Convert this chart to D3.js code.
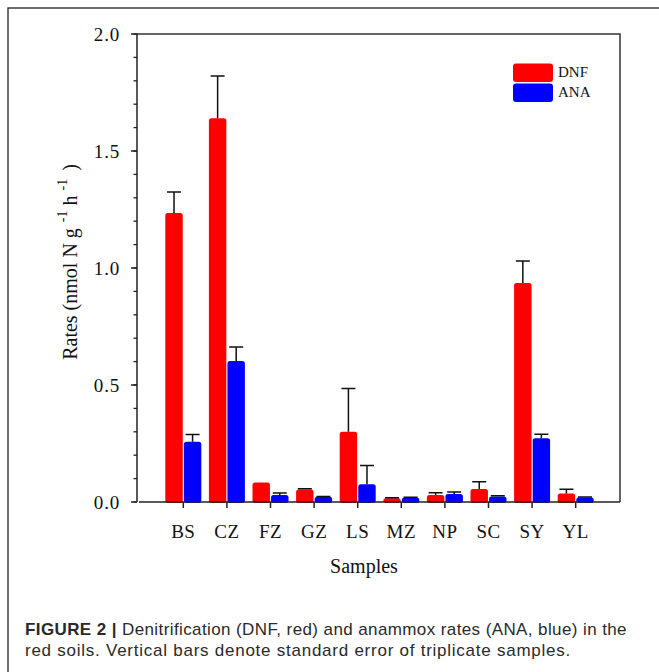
<!DOCTYPE html>
<html><head><meta charset="utf-8">
<script src="https://cdn.jsdelivr.net/npm/d3@7"></script>
<style>body{margin:0;background:#fff}svg{display:block}</style>
</head><body>
<script>
const categories = ["BS","CZ","FZ","GZ","LS","MZ","NP","SC","SY","YL"];
const seriesNames = ["DNF","ANA"];
const seriesColors = ["#ff0000","#0000ff"];
const dnfValues = [1.235, 1.64, 0.083, 0.053, 0.30, 0.016, 0.030, 0.056, 0.936, 0.036];
const dnfErrors = [0.09, 0.18, 0.0, 0.004, 0.185, 0.002, 0.010, 0.031, 0.094, 0.018];
const anaValues = [0.257, 0.603, 0.030, 0.022, 0.076, 0.019, 0.034, 0.024, 0.272, 0.019];
const anaErrors = [0.031, 0.059, 0.008, 0.002, 0.08, 0.001, 0.009, 0.003, 0.018, 0.002];
const yTicks = [0.0, 0.5, 1.0, 1.5, 2.0];
const yMinorTicks = d3.range(0, 21).map(i => i / 10);
const xTitle = "Samples";
const captionBold = "FIGURE 2 |";
const captionLine1 = " Denitrification (DNF, red) and anammox rates (ANA, blue) in the";
const captionLine2 = "red soils. Vertical bars denote standard error of triplicate samples.";

const W = 659, H = 672;
const svg = d3.select("body").append("svg").attr("width", W).attr("height", H);

// outer figure border (extends past right/bottom)
svg.append("rect").attr("x", 8).attr("y", 8).attr("width", 700).attr("height", 720)
  .attr("fill", "none").attr("stroke", "#222").attr("stroke-width", 1.3);

const pL = 137, pR = 620, pT = 34, pB = 502;
const y = d3.scaleLinear().domain([0, 2]).range([pB, pT]);
const x0 = d3.scaleBand().domain(categories).range([161.5, 597.5]);
const x1 = d3.scaleBand().domain(seriesNames).range([3.8, x0.bandwidth() - 3.8]).paddingInner(0.06);
const color = d3.scaleOrdinal().domain(seriesNames).range(seriesColors);

const data = categories.map((c, i) => ({
  cat: c,
  vals: [
    {s: "DNF", v: dnfValues[i], e: dnfErrors[i]},
    {s: "ANA", v: anaValues[i], e: anaErrors[i]}
  ]
}));

const serif = "'Liberation Serif','Times New Roman',serif";
const axisColor = "#222";

// frame: top and right lines
svg.append("path").attr("d", `M${pL},${pT}H${pR}V${pB}`)
  .attr("fill", "none").attr("stroke", "#333").attr("stroke-width", 1.5);

// bars
const g = svg.append("g");
const groups = g.selectAll("g.cat").data(data).join("g")
  .attr("transform", d => `translate(${x0(d.cat)},0)`);
groups.selectAll("rect").data(d => d.vals).join("rect")
  .attr("x", d => x1(d.s)).attr("width", x1.bandwidth())
  .attr("y", d => y(d.v)).attr("height", d => y(0) - y(d.v) + 1)
  .attr("rx", 2.5).attr("fill", d => color(d.s));
// error bars
groups.selectAll("path.err").data(d => d.vals.filter(v => v.e > 0)).join("path")
  .attr("class", "err")
  .attr("d", d => {
    const cx = x1(d.s) + x1.bandwidth() / 2;
    return `M${cx},${y(d.v)}V${y(d.v + d.e)}M${cx - 7},${y(d.v + d.e)}H${cx + 7}`;
  })
  .attr("stroke", "#111").attr("stroke-width", 1.5).attr("fill", "none");

// y axis
const yAxis = svg.append("g");
yAxis.append("line").attr("x1", pL).attr("x2", pL).attr("y1", pT).attr("y2", pB)
  .attr("stroke", axisColor).attr("stroke-width", 1.5);
yAxis.selectAll("line.minor").data(yMinorTicks).join("line").attr("class", "minor")
  .attr("x1", pL - 3.5).attr("x2", pL).attr("y1", d => y(d)).attr("y2", d => y(d))
  .attr("stroke", axisColor).attr("stroke-width", 1.3);
yAxis.selectAll("line.major").data(yTicks).join("line").attr("class", "major")
  .attr("x1", pL - 6).attr("x2", pL).attr("y1", d => y(d)).attr("y2", d => y(d))
  .attr("stroke", axisColor).attr("stroke-width", 1.5);
yAxis.selectAll("text").data(yTicks).join("text")
  .attr("x", 120).attr("y", d => y(d) + 6.5).attr("text-anchor", "end")
  .attr("font-family", serif).attr("font-size", 19).attr("letter-spacing", 0.8).attr("fill", "#111")
  .text(d => d.toFixed(1));

// x axis
const xAxis = svg.append("g");
xAxis.append("line").attr("x1", pL + 2).attr("x2", pR).attr("y1", pB).attr("y2", pB)
  .attr("stroke", axisColor).attr("stroke-width", 1.5);
xAxis.selectAll("line.tick").data(categories).join("line").attr("class", "tick")
  .attr("x1", d => x0(d) + x0.bandwidth() / 2).attr("x2", d => x0(d) + x0.bandwidth() / 2)
  .attr("y1", pB).attr("y2", pB + 6)
  .attr("stroke", axisColor).attr("stroke-width", 1.5);
xAxis.selectAll("text").data(categories).join("text")
  .attr("x", d => x0(d) + x0.bandwidth() / 2).attr("y", 538).attr("text-anchor", "middle")
  .attr("font-family", serif).attr("font-size", 19).attr("letter-spacing", 0.5).attr("fill", "#111")
  .text(d => d);

// x title
svg.append("text").attr("x", 364).attr("y", 573).attr("text-anchor", "middle")
  .attr("font-family", serif).attr("font-size", 20).attr("fill", "#111").text(xTitle);

// y title
const yt = svg.append("text").attr("transform", "translate(77,262) rotate(-90)")
  .attr("text-anchor", "middle").attr("font-family", serif).attr("font-size", 20).attr("fill", "#111");
yt.append("tspan").text("Rates (nmol N g");
yt.append("tspan").attr("font-size", 14).attr("dx", 6).attr("dy", -10).text("-1");
yt.append("tspan").attr("dx", 5).attr("dy", 10).text("h");
yt.append("tspan").attr("font-size", 14).attr("dx", 5).attr("dy", -10).text("-1");
yt.append("tspan").attr("dx", 8).attr("dy", 10).text(")");

// legend
const leg = svg.append("g");
leg.selectAll("rect").data(seriesNames).join("rect")
  .attr("x", 513).attr("y", (d, i) => 63.5 + i * 20).attr("width", 40).attr("height", 18.5)
  .attr("rx", 3).attr("fill", d => color(d));
leg.selectAll("text").data(seriesNames).join("text")
  .attr("x", 558).attr("y", (d, i) => 77 + i * 20)
  .attr("font-family", serif).attr("font-size", 15).attr("fill", "#111").text(d => d);

// caption
const sans = "'Liberation Sans',Arial,sans-serif";
function fitSpacing(sel, target, nChars) {
  const w = sel.node().getComputedTextLength();
  sel.attr("letter-spacing", ((target - w) / nChars).toFixed(3));
}
const c1 = svg.append("text").attr("x", 25).attr("y", 635)
  .attr("font-family", sans).attr("font-size", 17).attr("fill", "#2a2a2a");
c1.append("tspan").attr("font-weight", "bold").text(captionBold);
c1.append("tspan").text(captionLine1);
fitSpacing(c1, 602, (captionBold + captionLine1).length);
const c2 = svg.append("text").attr("x", 25).attr("y", 655.5)
  .attr("font-family", sans).attr("font-size", 17).attr("fill", "#2a2a2a").text(captionLine2);
fitSpacing(c2, 546, captionLine2.length);
</script>
</body></html>
